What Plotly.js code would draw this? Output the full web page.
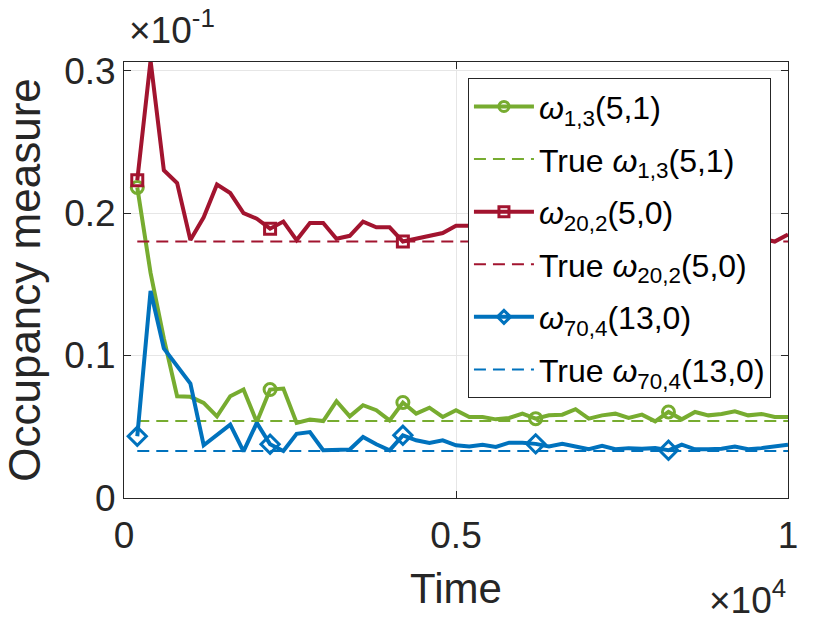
<!DOCTYPE html>
<html>
<head>
<meta charset="utf-8">
<script src="https://cdn.plot.ly/plotly-3.0.1.min.js"></script>
<style>
  html, body { margin: 0; padding: 0; background: #ffffff; }
  #chart { width: 830px; height: 623px; }
</style>
</head>
<body>
<div id="chart"></div>
<script>
// time steps (x axis, shown as x10^4)
const time = [200, 400, 600, 800, 1000, 1200, 1400, 1600, 1800, 2000,
              2200, 2400, 2600, 2800, 3000, 3200, 3400, 3600, 3800, 4000,
              4200, 4400, 4600, 4800, 5000, 5200, 5400, 5600, 5800, 6000,
              6200, 6400, 6600, 6800, 7000, 7200, 7400, 7600, 7800, 8000,
              8200, 8400, 8600, 8800, 9000, 9200, 9400, 9600, 9800, 10000];

// estimated occupancy measures (y axis, shown as x10^-1)
const omega13 = [0.218, 0.158, 0.112, 0.0714, 0.071, 0.0667, 0.0573, 0.0714, 0.0761, 0.0533,
                 0.0761, 0.0768, 0.0527, 0.055, 0.054, 0.0679, 0.0573, 0.0651, 0.0616, 0.0545,
                 0.067, 0.0592, 0.0634, 0.0569, 0.0616, 0.0569, 0.0569, 0.0552, 0.0562, 0.0592,
                 0.0557, 0.058, 0.0585, 0.0623, 0.0557, 0.058, 0.0592, 0.0562, 0.0585, 0.0538,
                 0.0604, 0.0552, 0.0604, 0.058, 0.059, 0.0609, 0.058, 0.059, 0.0569, 0.0569];

const omega202 = [0.223, 0.307, 0.230, 0.221, 0.181, 0.197, 0.220, 0.214, 0.200, 0.196,
                  0.189, 0.194, 0.181, 0.193, 0.193, 0.182, 0.184, 0.194, 0.190, 0.190,
                  0.180, 0.182, 0.184, 0.186, 0.191, 0.191, 0.191, 0.190, 0.186, 0.188,
                  0.188, 0.180, 0.186, 0.190, 0.189, 0.183, 0.183, 0.184, 0.182, 0.182,
                  0.185, 0.185, 0.183, 0.183, 0.183, 0.184, 0.184, 0.182, 0.180, 0.185];

const omega704 = [0.0433, 0.1454, 0.105, 0.0925, 0.0803, 0.037, 0.044, 0.0515, 0.0327, 0.0527,
                  0.0377, 0.033, 0.045, 0.0463, 0.0335, 0.0335, 0.034, 0.0428, 0.0377, 0.0335,
                  0.044, 0.0405, 0.0386, 0.0405, 0.037, 0.0362, 0.0374, 0.0358, 0.0388, 0.0388,
                  0.038, 0.0362, 0.038, 0.0362, 0.0342, 0.0366, 0.0342, 0.035, 0.0345, 0.035,
                  0.0335, 0.0374, 0.0342, 0.0342, 0.0345, 0.0362, 0.0342, 0.035, 0.0362, 0.0374];

// true values
const true13 = 0.054;
const true202 = 0.180;
const true704 = 0.033;

// which points carry a marker
const markerIdx = [0, 10, 20, 30, 40];

const xTicks = [0, 5000, 10000];
const xTickText = ['0', '0.5', '1'];
const yTicks = [0, 0.1, 0.2, 0.3];
const yTickText = ['0', '0.1', '0.2', '0.3'];

const GREEN = '#77AC30';
const RED = '#A2142F';
const BLUE = '#0072BD';
const AXIS = '#262626';
const FONT = 'Liberation Sans, Arial, Helvetica, sans-serif';

const series = [
    { key: 'g', y: omega13, color: GREEN, symbol: 'circle-open', size: 12, truth: true13,
      name: '<i>ω</i><sub>1,3</sub>(5,1)', trueName: 'True <i>ω</i><sub>1,3</sub>(5,1)' },
    { key: 'r', y: omega202, color: RED, symbol: 'square-open', size: 11, truth: true202,
      name: '<i>ω</i><sub>20,2</sub>(5,0)', trueName: 'True <i>ω</i><sub>20,2</sub>(5,0)' },
    { key: 'b', y: omega704, color: BLUE, symbol: 'diamond-open', size: 14, truth: true704,
      name: '<i>ω</i><sub>70,4</sub>(13,0)', trueName: 'True <i>ω</i><sub>70,4</sub>(13,0)' }
];

const traces = [];
const legendTraces = [];

series.forEach(s => {
    // dashed true value
    traces.push({
        x: [time[0], time[time.length - 1]],
        y: [s.truth, s.truth],
        type: 'scatter',
        mode: 'lines',
        line: { color: s.color, width: 2, dash: '12px,7px' },
        showlegend: false,
        hoverinfo: 'skip'
    });
    // estimate line
    traces.push({
        x: time,
        y: s.y,
        type: 'scatter',
        mode: 'lines',
        line: { color: s.color, width: 4 },
        showlegend: false
    });
    // sparse markers
    traces.push({
        x: markerIdx.map(i => time[i]),
        y: markerIdx.map(i => s.y[i]),
        type: 'scatter',
        mode: 'markers',
        marker: { color: s.color, symbol: s.symbol, size: s.size, line: { width: 3, color: s.color } },
        showlegend: false
    });
    // legend-only entries (own group each so tracegroupgap spaces them)
    legendTraces.push({
        x: [null], y: [null],
        type: 'scatter',
        mode: 'lines+markers',
        name: s.name,
        legendgroup: s.key + 'est',
        line: { color: s.color, width: 4 },
        marker: { color: s.color, symbol: s.symbol, size: 10, line: { width: 3, color: s.color } }
    });
    legendTraces.push({
        x: [null], y: [null],
        type: 'scatter',
        mode: 'lines',
        name: s.trueName,
        legendgroup: s.key + 'true',
        line: { color: s.color, width: 2, dash: '12px,7px' }
    });
});

const layout = {
    width: 830,
    height: 623,
    paper_bgcolor: '#ffffff',
    plot_bgcolor: '#ffffff',
    font: { family: FONT, color: AXIS, size: 37 },
    margin: { l: 124, r: 42, t: 62, b: 125 },
    showlegend: true,
    legend: {
        x: 0.518, y: 0.963,
        xanchor: 'left', yanchor: 'top',
        bgcolor: '#ffffff',
        bordercolor: AXIS,
        borderwidth: 1,
        font: { family: FONT, size: 32, color: '#000000' },
        itemwidth: 60,
        tracegroupgap: 8
    },
    xaxis: {
        range: [0, 10000],
        tickvals: xTicks,
        ticktext: xTickText,
        ticks: 'inside',
        ticklen: 7,
        tickcolor: AXIS,
        showline: true,
        linecolor: AXIS,
        linewidth: 1,
        mirror: 'ticks',
        showgrid: true,
        gridcolor: '#e6e6e6',
        zeroline: false,
        ticklabelstandoff: 5,
        tickfont: { size: 37, color: AXIS },
        title: { text: 'Time', font: { size: 42, color: AXIS }, standoff: 18 }
    },
    yaxis: {
        range: [0, 0.306],
        tickvals: yTicks,
        ticktext: yTickText,
        ticks: 'inside',
        ticklen: 7,
        tickcolor: AXIS,
        showline: true,
        linecolor: AXIS,
        linewidth: 1,
        mirror: 'ticks',
        showgrid: true,
        gridcolor: '#e6e6e6',
        zeroline: false,
        tickfont: { size: 37, color: AXIS },
        title: { text: 'Occupancy measure', font: { size: 44, color: AXIS }, standoff: 14 }
    },
    annotations: [
        {
            xref: 'paper', yref: 'paper', x: 0.005, y: 1.02,
            xanchor: 'left', yanchor: 'bottom',
            text: '×10<sup>-1</sup>', showarrow: false,
            font: { family: FONT, size: 37, color: AXIS }
        },
        {
            xref: 'paper', yref: 'paper', x: 1.0, y: -0.17,
            xanchor: 'right', yanchor: 'top',
            text: '×10<sup>4</sup>', showarrow: false,
            font: { family: FONT, size: 37, color: AXIS }
        }
    ]
};

Plotly.newPlot('chart', traces.concat(legendTraces), layout, { displayModeBar: false, staticPlot: true });
</script>
</body>
</html>
